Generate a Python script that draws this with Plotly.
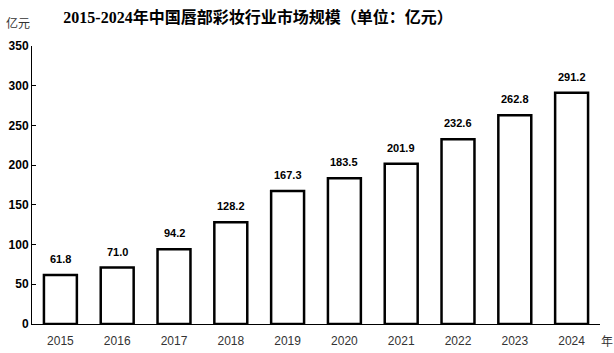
import plotly.graph_objects as go

years = ["2015", "2016", "2017", "2018", "2019", "2020", "2021", "2022", "2023", "2024"]
values = [61.8, 71.0, 94.2, 128.2, 167.3, 183.5, 201.9, 232.6, 262.8, 291.2]
labels = [f"{v:.1f}" for v in values]
y_ticks = [0, 50, 100, 150, 200, 250, 300, 350]

W, H = 614, 353
l, r, t, b = 32, 14, 46, 29
pw, ph = W - l - r, H - t - b

def px(xp):
    return (xp - l) / pw

def py(yp):
    return (H - b - yp) / ph

fig = go.Figure(go.Bar(
    x=years, y=values,
    marker=dict(color="white", line=dict(color="black", width=2.5)),
    hoverinfo="skip",
))

# category index positions for label annotations
annotations = [
    dict(x=i, y=v, text=f"<b>{lab}</b>", showarrow=False, xref="x", yref="y",
         yanchor="bottom", yshift=8,
         font=dict(family="Liberation Sans, Arial", size=11, color="black"))
    for i, (v, lab) in enumerate(zip(values, labels))
]
annotations += [
    dict(text="亿元", x=px(4), y=py(22), xref="paper", yref="paper", showarrow=False,
         xanchor="left", yanchor="middle",
         font=dict(family="Noto Sans CJK SC", size=12, color="#333333")),
    dict(text="年", x=px(599), y=py(340), xref="paper", yref="paper", showarrow=False,
         xanchor="left", yanchor="middle",
         font=dict(family="Noto Sans CJK SC", size=12, color="#333333")),
]

fig.update_layout(
    width=W, height=H,
    margin=dict(l=l, r=r, t=t, b=b, autoexpand=False),
    plot_bgcolor="white", paper_bgcolor="white",
    bargap=0.42,
    showlegend=False,
    title=dict(
        text="<b>2015-2024年中国唇部彩妆行业市场规模（单位：亿元）</b>",
        font=dict(family="Liberation Serif, Noto Sans CJK SC", size=16, color="black"),
        x=258 / W, xanchor="center", y=1 - 17 / H, yanchor="middle",
    ),
    xaxis=dict(
        type="category", automargin=False,
        range=[-0.5, len(years) - 0.5],
        showline=True, linecolor="black", linewidth=1,
        ticks="", showgrid=False, ticklabelstandoff=6,
        tickfont=dict(family="Liberation Sans, Arial", size=12, color="#333333"),
    ),
    yaxis=dict(
        range=[0, 350], tickvals=y_ticks, automargin=False,
        showline=True, linecolor="black", linewidth=1,
        ticks="inside", ticklen=4, tickcolor="black",
        showgrid=False, zeroline=False,
        tickfont=dict(family="Liberation Sans, Arial", size=12, color="black", weight="bold"),
    ),
    annotations=annotations,
)

fig.write_html("out.html")
